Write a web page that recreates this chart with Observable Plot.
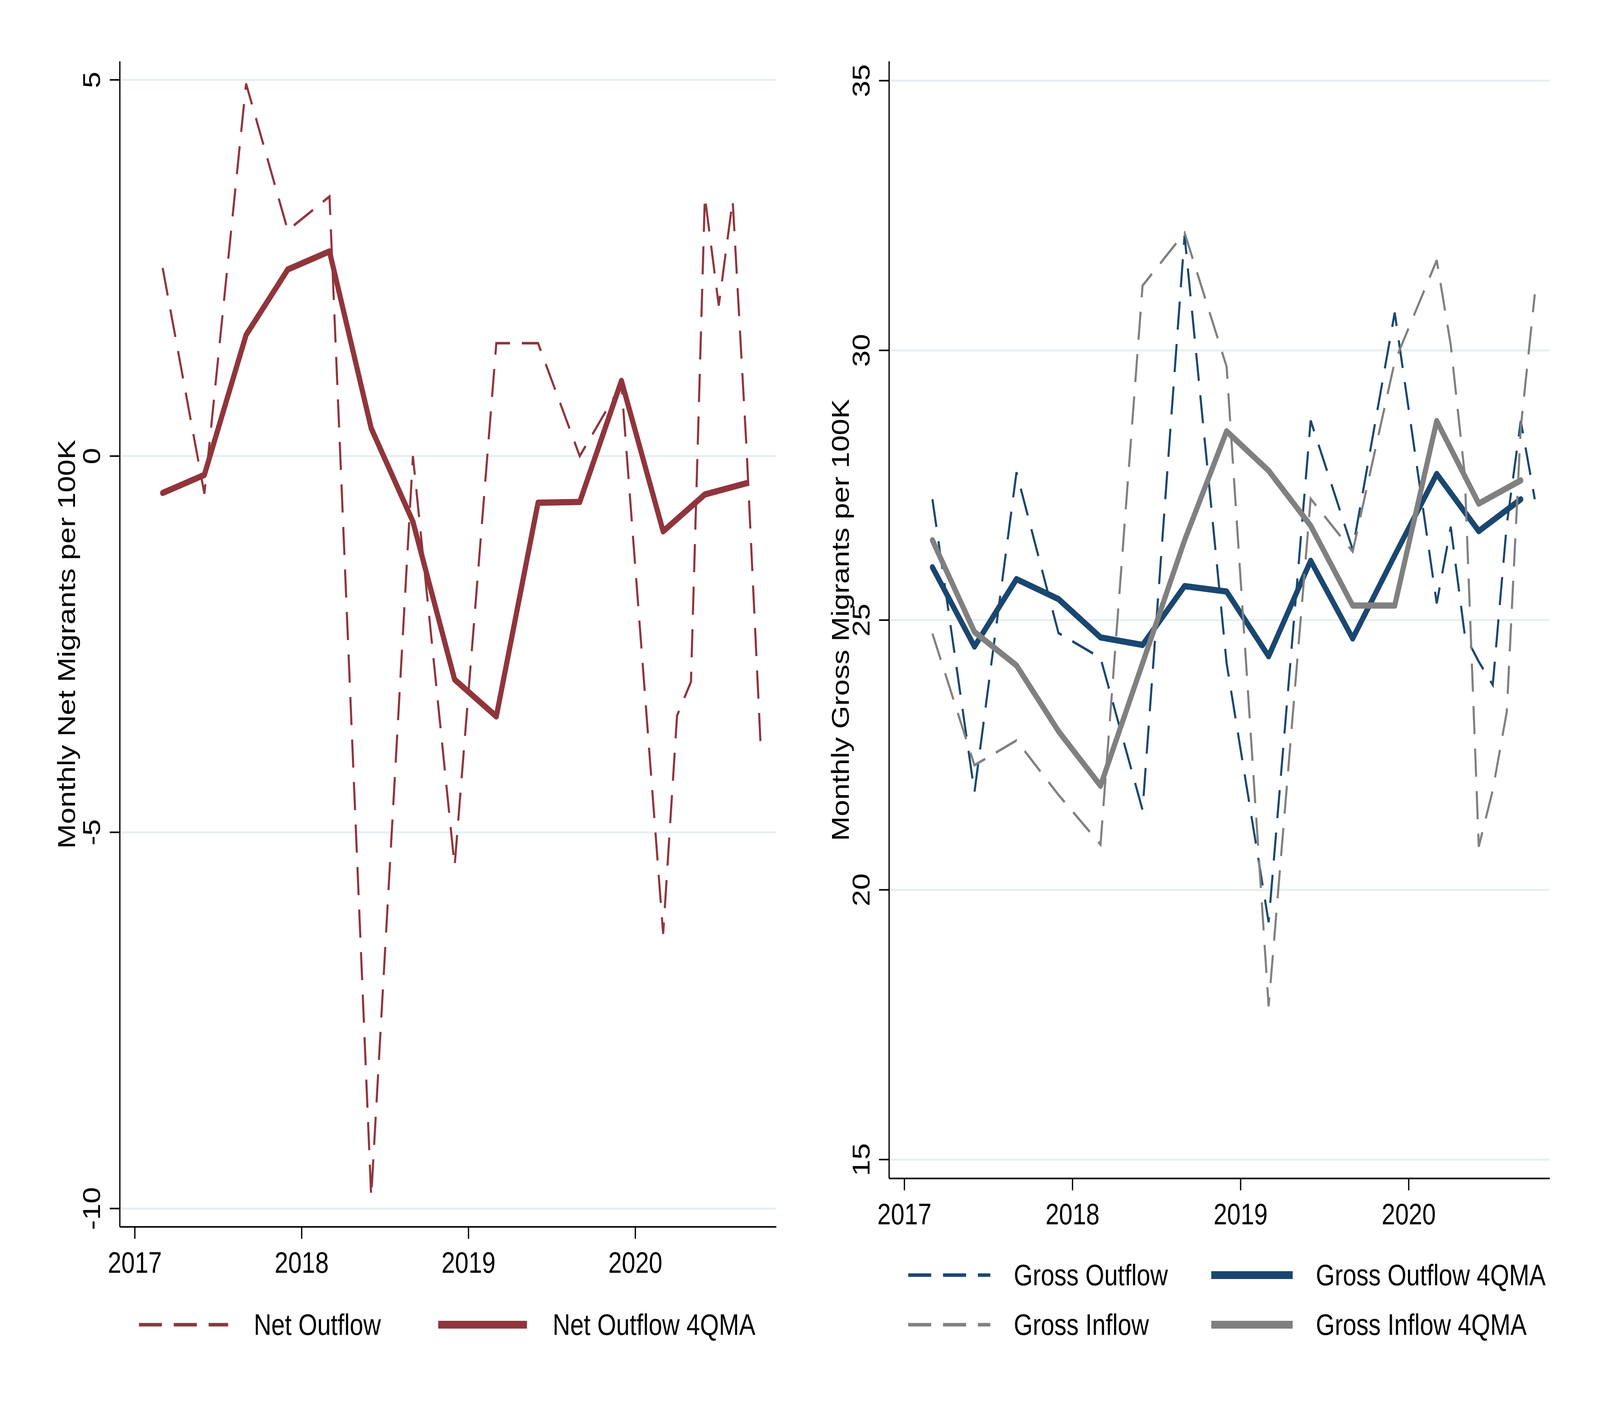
<!DOCTYPE html>
<html><head><meta charset="utf-8">
<script src="https://cdn.jsdelivr.net/npm/d3@7"></script>
<script src="https://cdn.jsdelivr.net/npm/@observablehq/plot@0.6"></script>
<style>
html,body{margin:0;padding:0;background:#fff;overflow:hidden;}
#page{position:absolute;left:0;top:0;width:5000px;height:3636px;background:#fff;font-family:"Liberation Sans",Arial,sans-serif;overflow:hidden;transform-origin:0 0}
.panel{position:absolute;top:0}
.legtext{position:absolute;font-size:76px;line-height:76px;height:76px;color:#000;white-space:nowrap;font-family:"Liberation Sans",Arial,sans-serif}
.legkey{position:absolute;display:block}
</style></head><body><div id="page"></div>
<script>
// ---------- data ----------
// observation periods of the raw series (quarterly through 2019, monthly in 2020)
const periods = ["2017-03","2017-06","2017-09","2017-12","2018-03","2018-06","2018-09","2018-12",
  "2019-03","2019-06","2019-09","2019-12","2020-03","2020-04","2020-05","2020-06","2020-07","2020-08","2020-09","2020-10"];
const netOutflow   = [2.5,-0.5,4.95,3.0,3.45,-9.85,0.0,-5.45,1.5,1.5,0.0,0.95,-6.35,-3.45,-3.0,3.45,2.0,3.4,0.1,-3.8];
const grossOutflow = [27.24,21.81,27.74,24.76,24.3,21.48,32.13,24.2,19.4,28.7,26.31,30.7,25.31,26.73,24.73,24.23,23.8,26.77,28.69,27.24];
const grossInflow  = [24.75,22.31,22.77,21.76,20.84,31.2,32.18,29.7,17.84,27.25,26.27,29.79,31.67,30.1,27.7,20.8,21.85,23.3,28.57,31.04];

// 4-quarter moving averages (quarterly)
const maPeriods = ["2017-03","2017-06","2017-09","2017-12","2018-03","2018-06","2018-09","2018-12",
  "2019-03","2019-06","2019-09","2019-12","2020-03","2020-06","2020-09"];
const netOutflowMA   = [-0.49,-0.25,1.61,2.48,2.72,0.37,-0.87,-2.97,-3.46,-0.62,-0.61,1.0,-1.0,-0.51,-0.36];
const grossOutflowMA = [25.98,24.51,25.76,25.39,24.68,24.54,25.63,25.53,24.33,26.1,24.66,26.2,27.71,26.65,27.24];
const grossInflowMA  = [26.48,24.78,24.16,22.94,21.93,24.2,26.48,28.5,27.77,26.75,25.27,25.27,28.69,27.16,27.59];

const xTicks = [2017, 2018, 2019, 2020];
const yTicksNet = [-10, -5, 0, 5];
const yTicksGross = [15, 20, 25, 30, 35];
const xDomainNet = [2016.91, 2020.846];
const xDomainGross = [2016.909, 2020.84];
const yDomainNet = [-10.244, 5.244];
const yDomainGross = [14.65, 35.355];

const titleNet = "Monthly Net Migrants per 100K";
const titleGross = "Monthly Gross Migrants per 100K";
const legendNet = ["Net Outflow", "Net Outflow 4QMA"];
const legendGross = ["Gross Outflow", "Gross Outflow 4QMA", "Gross Inflow", "Gross Inflow 4QMA"];

// ---------- helpers ----------
const toYear = p => +p.slice(0, 4) + (+p.slice(5, 7) - 1) / 12;
const rows = (ps, vs) => ps.map((p, i) => ({t: toYear(p), v: vs[i]}));

const MAROON = "#90353b", NAVY = "#1a476f", GRAY = "#808080", GRID = "#e6eef0";
const FONT = "Liberation Sans, Arial, sans-serif";
const FS = 76;
const DASH = "72,37";

function dashed(data, color) {
  return Plot.line(data, {x: "t", y: "v", stroke: color, strokeWidth: 6.5, strokeDasharray: DASH,
    strokeLinecap: "butt", strokeLinejoin: "miter", strokeMiterlimit: 3});
}
function solid(data, color) {
  return Plot.line(data, {x: "t", y: "v", stroke: color, strokeWidth: 16,
    strokeLinecap: "round", strokeLinejoin: "round"});
}
function frameMarks(xDomain, yDomain, yTicks, title, titleDx) {
  return [
    Plot.gridY(yTicks, {stroke: GRID, strokeOpacity: 1, strokeWidth: 5}),
    Plot.axisX(xTicks, {tickSize: 31, tickPadding: 33, strokeWidth: 4, fontSize: FS,
      tickFormat: d => String(d), label: null}),
    Plot.axisY(yTicks, {tickSize: 31, tickPadding: 55, strokeWidth: 4, fontSize: FS,
      tickRotate: -90, textAnchor: "middle", lineAnchor: "middle",
      tickFormat: d => String(d), label: null}),
    Plot.ruleX([xDomain[0]], {stroke: "#000", strokeWidth: 4}),
    Plot.ruleY([yDomain[0]], {stroke: "#000", strokeWidth: 4}),
    Plot.text([title], {frameAnchor: "left", rotate: -90, dx: titleDx, fontSize: FS,
      textAnchor: "middle", lineAnchor: "middle", fill: "#000"})
  ];
}

const page = document.getElementById("page");

// ---------- left panel: net ----------
const left = Plot.plot({
  width: 2500, height: 3300,
  marginLeft: 374, marginRight: 74, marginTop: 157, marginBottom: 159,
  style: {fontFamily: FONT, fontSize: FS + "px", background: "transparent", color: "#000"},
  x: {domain: xDomainNet},
  y: {domain: yDomainNet},
  marks: [
    ...frameMarks(xDomainNet, yDomainNet, yTicksNet, titleNet, -165),
    dashed(rows(periods, netOutflow), MAROON),
    solid(rows(maPeriods, netOutflowMA), MAROON)
  ]
});
left.classList.add("panel");
left.style.left = "0px";
page.appendChild(left);

// ---------- right panel: gross ----------
const right = Plot.plot({
  width: 2500, height: 3300,
  marginLeft: 278, marginRight: 157, marginTop: 157, marginBottom: 283,
  style: {fontFamily: FONT, fontSize: FS + "px", background: "transparent", color: "#000"},
  x: {domain: xDomainGross},
  y: {domain: yDomainGross},
  marks: [
    ...frameMarks(xDomainGross, yDomainGross, yTicksGross, titleGross, -150),
    dashed(rows(periods, grossOutflow), NAVY),
    solid(rows(maPeriods, grossOutflowMA), NAVY),
    dashed(rows(periods, grossInflow), GRAY),
    solid(rows(maPeriods, grossInflowMA), GRAY)
  ]
});
right.classList.add("panel");
right.style.left = "2500px";
page.appendChild(right);

// ---------- legends ----------
const NS = "http://www.w3.org/2000/svg";
function legendItem(x0, x1, textX, rowY, color, isDashed, label) {
  const len = x1 - x0;
  const svg = document.createElementNS(NS, "svg");
  svg.setAttribute("width", len);
  svg.setAttribute("height", 30);
  svg.setAttribute("class", "legkey");
  svg.style.left = x0 + "px";
  svg.style.top = (rowY - 15) + "px";
  const ln = document.createElementNS(NS, "line");
  ln.setAttribute("x1", 0); ln.setAttribute("x2", len);
  ln.setAttribute("y1", 15); ln.setAttribute("y2", 15);
  ln.setAttribute("stroke", color);
  ln.setAttribute("stroke-width", isDashed ? 9 : 20);
  if (isDashed) ln.setAttribute("stroke-dasharray", DASH);
  svg.appendChild(ln);
  page.appendChild(svg);
  const tx = document.createElement("div");
  tx.className = "legtext";
  tx.style.left = textX + "px";
  tx.style.top = (rowY - 38) + "px";
  tx.textContent = label;
  page.appendChild(tx);
}
legendItem(434, 713, 793, 3392, MAROON, true, legendNet[0]);
legendItem(1369, 1647, 1727, 3392, MAROON, false, legendNet[1]);
legendItem(2838, 3095, 3168, 3265, NAVY, true, legendGross[0]);
legendItem(3785, 4040, 4112, 3265, NAVY, false, legendGross[1]);
legendItem(2838, 3095, 3168, 3392, GRAY, true, legendGross[2]);
legendItem(3785, 4040, 4112, 3392, GRAY, false, legendGross[3]);

// fit the 5000x3636 layout into the actual browser window
function fit() {
  const sx = window.innerWidth / 5000, sy = window.innerHeight / 3636;
  page.style.transform = `scale(${sx}, ${sy})`;
}
fit();
window.addEventListener("resize", fit);
</script></body></html>
